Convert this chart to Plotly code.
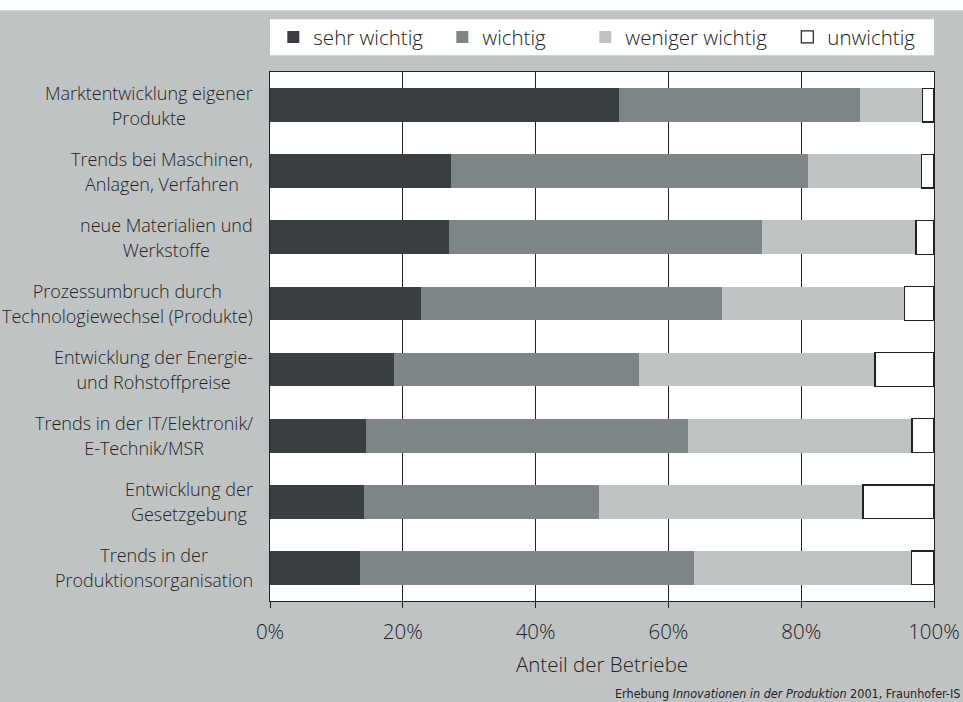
import plotly.graph_objects as go

categories = [
    "Marktentwicklung eigener Produkte",
    "Trends bei Maschinen, Anlagen, Verfahren",
    "neue Materialien und Werkstoffe",
    "Prozessumbruch durch Technologiewechsel (Produkte)",
    "Entwicklung der Energie- und Rohstoffpreise",
    "Trends in der IT/Elektronik/E-Technik/MSR",
    "Entwicklung der Gesetzgebung",
    "Trends in der Produktionsorganisation",
]
label_line1 = [
    "Marktentwicklung eigener",
    "Trends bei Maschinen,",
    "neue Materialien und",
    "Prozessumbruch durch",
    "Entwicklung der Energie-",
    "Trends in der IT/Elektronik/",
    "Entwicklung der",
    "Trends in der",
]
label_line2 = [
    "Produkte",
    "Anlagen, Verfahren",
    "Werkstoffe",
    "Technologiewechsel (Produkte)",
    "und Rohstoffpreise",
    "E-Technik/MSR",
    "Gesetzgebung",
    "Produktionsorganisation",
]
sehr_wichtig = [52.5, 27.2, 26.9, 22.8, 18.6, 14.4, 14.1, 13.6]
wichtig = [36.3, 53.8, 47.2, 45.2, 36.9, 48.5, 35.4, 50.2]
weniger_wichtig = [9.5, 17.1, 23.2, 27.5, 35.6, 33.8, 39.8, 32.8]
unwichtig = [1.7, 1.9, 2.7, 4.5, 8.9, 3.3, 10.7, 3.4]
tick_vals = [0, 20, 40, 60, 80, 100]
tick_text = ["0%", "20%", "40%", "60%", "80%", "100%"]

BG = "#c0c3c4"
FONT = "Open Sans"
TXT = "#222222"
W = 300

series = [
    ("sehr wichtig", sehr_wichtig, "#393e41", "#393e41", 0, 124),
    ("wichtig", wichtig, "#7e8587", "#7e8587", 0, 98),
    ("weniger wichtig", weniger_wichtig, "#c0c3c4", "#c0c3c4", 0, 157),
    ("unwichtig", unwichtig, "#ffffff", "#222222", 1.2, 88),
]

fig = go.Figure()
for name, vals, col, lcol, lw, legw in series:
    fig.add_trace(go.Bar(
        y=categories, x=vals, name=name, orientation="h",
        marker=dict(color=col, line=dict(color=lcol, width=lw)),
        legendwidth=legw,
        hoverinfo="skip",
    ))

for cat, l1, l2 in zip(categories, label_line1, label_line2):
    fig.add_annotation(
        x=0, xref="paper", y=cat, yref="y",
        xanchor="right", yanchor="middle", xshift=-15, align="center",
        showarrow=False,
        text=f"<span style='font-size:18px'>{l1}</span><br><span style='font-size:18px'>{l2}</span>",
        font=dict(family=FONT, size=19.5, color=TXT, weight=W),
    )

fig.add_annotation(
    x=1, xref="paper", y=-0.175, yref="paper",
    xanchor="right", xshift=28, yanchor="middle", showarrow=False,
    text="Erhebung <i>Innovationen in der Produktion</i> 2001, Fraunhofer-IS",
    font=dict(family="Liberation Sans Narrow, DejaVu Sans Condensed, Open Sans", size=12.5, color=TXT),
)

# top white strip and white legend background
fig.add_shape(type="rect", xref="paper", yref="paper", x0=-1, x1=2, y0=1.1165, y1=1.3,
              fillcolor="white", line_width=0, layer="below")
fig.add_shape(type="rect", xref="paper", yref="paper", x0=0, x1=1, y0=1.0315, y1=1.0995,
              fillcolor="white", line_width=0, layer="below")

fig.update_layout(
    barmode="stack",
    bargap=0.49,
    width=963, height=702,
    margin=dict(l=270, r=29, t=72, b=101, autoexpand=False),
    paper_bgcolor=BG,
    plot_bgcolor="white",
    font=dict(family=FONT, color=TXT, weight=W),
    showlegend=True,
    legend=dict(
        orientation="h", x=0.005, xanchor="left", y=1.066, yanchor="middle",
        bgcolor="rgba(0,0,0,0)", font=dict(family=FONT, size=20.5, color=TXT, weight=W),
        traceorder="normal", itemwidth=30,
    ),
    xaxis=dict(
        range=[0, 100], tickvals=tick_vals, ticktext=tick_text,
        showgrid=True, gridcolor="#222222", gridwidth=1,
        showline=True, linecolor="#222222", linewidth=1, mirror=True,
        ticks="outside", ticklen=6, tickcolor="#222222",
        tickfont=dict(family=FONT, size=20.5, color=TXT, weight=W),
        ticklabelstandoff=6, automargin=False,
        zeroline=False,
        title=dict(text="Anteil der Betriebe", font=dict(family=FONT, size=20.5, color=TXT, weight=W), standoff=14),
    ),
    yaxis=dict(
        categoryorder="array", categoryarray=categories, autorange="reversed",
        showticklabels=False, ticks="", showgrid=False, automargin=False,
        showline=True, linecolor="#222222", linewidth=1, mirror=True,
    ),
)

fig.write_html(
    "out.html",
    post_script=(
        "document.documentElement.style.overflow='hidden';"
        "document.body.style.margin='0';document.body.style.overflow='hidden';"
    ),
    config={"displayModeBar": False},
)
